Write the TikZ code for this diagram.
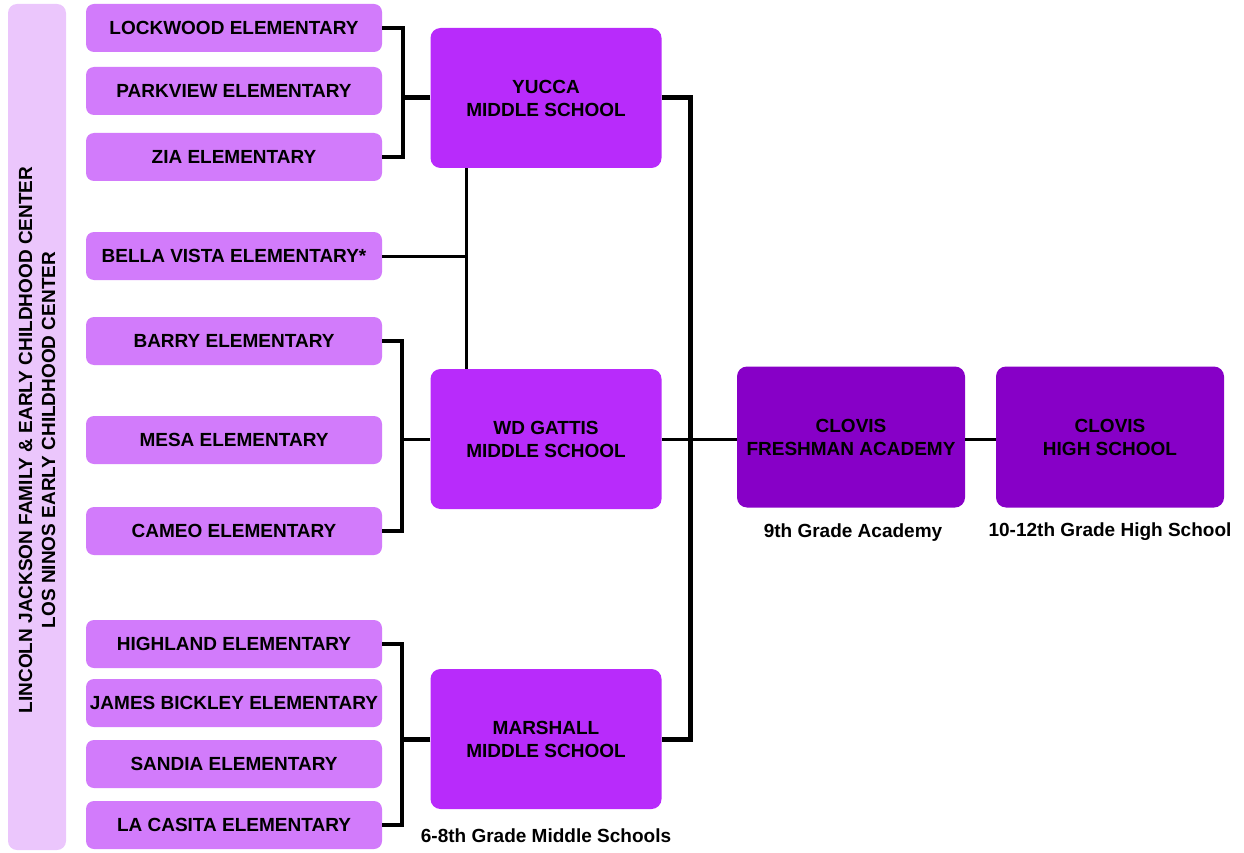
\documentclass[tikz,border=0pt]{standalone}
\usepackage{fontspec}
\setmainfont{Liberation Sans}
\usetikzlibrary{positioning}

\definecolor{sidecol}{HTML}{EBC6FC}
\definecolor{elemcol}{HTML}{D27BFB}
\definecolor{midcol}{HTML}{B82BFB}
\definecolor{highcol}{HTML}{8700C7}

\begin{document}
\begin{tikzpicture}[
			x = 1pt, y = -1pt,
			every node/.style = {font=\bfseries\fontsize{19}{23}\selectfont, inner sep=0pt},
			sidebar/.style = {fill=sidecol, rounded corners=9pt, minimum width=58pt, minimum height=846pt},
			elembox/.style = {fill=elemcol, rounded corners=8pt, minimum width=296pt, minimum height=48pt},
			midbox/.style = {fill=midcol, rounded corners=10pt, minimum width=231pt, minimum height=140pt, align=center},
			highbox/.style = {fill=highcol, rounded corners=10pt, minimum width=228pt, minimum height=141pt, align=center},
			link/.style = {line width=3pt},
			heavylink/.style = {line width=5pt, line join=miter}
			]

			\useasboundingbox (0,0) rectangle (1244,853);

			% left column
			\node[sidebar] (side) at (37,427) {};
			\node[rotate=90, align=center] (sidetext) at (37,440)
				{LINCOLN JACKSON FAMILY \& EARLY CHILDHOOD CENTER\\LOS NINOS EARLY CHILDHOOD CENTER};

			% elementary schools
			\foreach \name/\y/\txt in {
				lockwood/28/LOCKWOOD ELEMENTARY,
				parkview/91/PARKVIEW ELEMENTARY,
				zia/157/ZIA ELEMENTARY,
				bella/256/BELLA VISTA ELEMENTARY*,
				barry/341/BARRY ELEMENTARY,
				mesa/440/MESA ELEMENTARY,
				cameo/531/CAMEO ELEMENTARY,
				highland/644/HIGHLAND ELEMENTARY,
				bickley/703/JAMES BICKLEY ELEMENTARY,
				sandia/764/SANDIA ELEMENTARY,
				casita/825/LA CASITA ELEMENTARY}{
				\node[elembox] (\name) at (234,\y) {\txt};
			}

			% middle schools
			\node[midbox] (yucca) at (546,98) {YUCCA\\MIDDLE SCHOOL};
			\node[midbox] (gattis) at (546,439) {WD GATTIS\\MIDDLE SCHOOL};
			\node[midbox] (marshall) at (546,739) {MARSHALL\\MIDDLE SCHOOL};

			% academy and high school
			\node[highbox] (freshman) at (851,437) {CLOVIS\\FRESHMAN ACADEMY};
			\node[highbox] (high) at (1110,437) {CLOVIS\\HIGH SCHOOL};

			\node (lblmid) at (546,836) {6-8th Grade Middle Schools};
			\node (lblnine) at (853,533) {9th Grade Academy};
			\node (lblhigh) at (1110,532) {10-12th Grade High School};

			% brackets
			\draw[line width=4pt, line join=miter] (lockwood.east) -- ++(21,0) |- (zia.east);
			\draw[heavylink] (yucca.west) -- ++(-28,0);

			\draw[line width=4pt, line join=miter] (barry.east) -- ++(20,0) |- (cameo.east);
			\draw[link] (gattis.west) -- ++(-29,0);

			\draw[line width=4pt, line join=miter] (highland.east) -- ++(20,0) |- (casita.east);
			\draw[heavylink] (marshall.west) -- ++(-29,0);

			% bella vista link
			\coordinate (split) at ([xshift=36pt]yucca.south west);
			\draw[link] (split) -- (split |- gattis.north);
			\draw[link] (bella.east) -- (bella.east -| split);

			% trunk
			\coordinate (trunk) at (690,0);
			\draw[heavylink] (yucca.east) -| (trunk |- marshall.east) -- (marshall.east);
			\draw[link] (gattis.east) -- (gattis.east -| freshman.west);
			\draw[link] (freshman.east |- gattis.east) -- (high.west |- gattis.east);

		\end{tikzpicture}
\end{document}
